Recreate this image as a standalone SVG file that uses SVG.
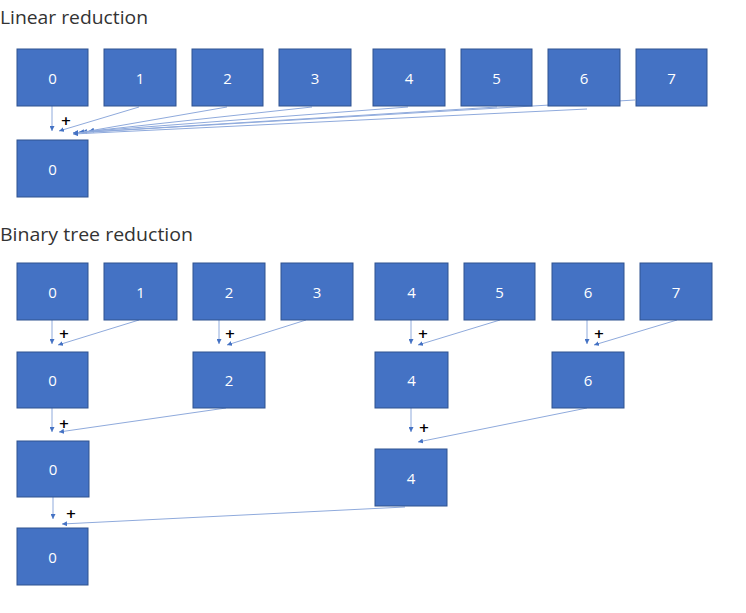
<svg xmlns="http://www.w3.org/2000/svg" width="746" height="613" viewBox="0 0 746 613">
<style>
.box rect{fill:#4472C4;stroke:#2F528F;stroke-width:1}
.box text{fill:#fff;font-family:"Open Sans","Noto Sans",sans-serif;font-size:15px;text-anchor:middle;dominant-baseline:central}
.title{fill:#333;font-family:"Open Sans","Noto Sans",sans-serif;font-size:19px}
.plus{fill:#000;font-family:"DejaVu Sans",sans-serif;font-size:13px;font-weight:bold;text-anchor:middle;dominant-baseline:central}
.conn line{stroke:#8FAADC;stroke-width:1;marker-end:url(#ah)}
</style>
<defs>
<marker id="ah" viewBox="0 0 10 10" refX="10" refY="5" markerWidth="5" markerHeight="5" markerUnits="userSpaceOnUse" orient="auto">
<path d="M0,0 L10,5 L0,10 z" fill="#4472C4"/>
</marker>
</defs>
<rect width="746" height="613" fill="#fff"/>
<text class="title" x="0" y="24" textLength="148" lengthAdjust="spacingAndGlyphs">Linear reduction</text>
<text class="title" x="0" y="241" textLength="193" lengthAdjust="spacingAndGlyphs">Binary tree reduction</text>

<g class="conn" id="connectors">
<line x1="52" y1="106" x2="52" y2="131"/>
<line x1="139" y1="107" x2="59" y2="131"/>
<line x1="227" y1="107" x2="89" y2="131"/>
<line x1="312" y1="107" x2="82" y2="132"/>
<line x1="408" y1="107" x2="79" y2="132"/>
<line x1="497" y1="107" x2="73" y2="133"/>
<line x1="587" y1="109" x2="73" y2="134"/>
<line x1="635" y1="100" x2="73" y2="133"/>

<line x1="52" y1="320" x2="52" y2="344"/>
<line x1="139" y1="320" x2="58" y2="345"/>
<line x1="219" y1="320" x2="219" y2="344"/>
<line x1="306" y1="320" x2="227" y2="345"/>
<line x1="411" y1="320" x2="411" y2="344"/>
<line x1="500" y1="320" x2="418" y2="345"/>
<line x1="587" y1="320" x2="587" y2="344"/>
<line x1="677" y1="320" x2="594" y2="345"/>

<line x1="52" y1="408" x2="52" y2="432"/>
<line x1="226" y1="408" x2="59" y2="432"/>
<line x1="411" y1="408" x2="411" y2="432"/>
<line x1="587" y1="408" x2="418" y2="442"/>

<line x1="53" y1="497" x2="53" y2="519"/>
<line x1="405" y1="507" x2="62" y2="524"/>
</g>

<g id="plus-signs">
<text class="plus" x="66" y="120">+</text>
<text class="plus" x="64" y="333">+</text>
<text class="plus" x="230" y="333">+</text>
<text class="plus" x="423" y="333">+</text>
<text class="plus" x="599" y="333">+</text>
<text class="plus" x="64" y="423">+</text>
<text class="plus" x="424" y="427">+</text>
<text class="plus" x="71" y="513">+</text>
</g>

<g class="box" id="lin-0"><rect x="17" y="49" width="71" height="57"/><text x="52.5" y="77.5">0</text></g>
<g class="box" id="lin-1"><rect x="104" y="49" width="72" height="57"/><text x="140" y="77.5">1</text></g>
<g class="box" id="lin-2"><rect x="192" y="49" width="71" height="57"/><text x="227.5" y="77.5">2</text></g>
<g class="box" id="lin-3"><rect x="279" y="49" width="72" height="57"/><text x="315" y="77.5">3</text></g>
<g class="box" id="lin-4"><rect x="373" y="49" width="72" height="57"/><text x="409" y="77.5">4</text></g>
<g class="box" id="lin-5"><rect x="461" y="49" width="71" height="57"/><text x="496.5" y="77.5">5</text></g>
<g class="box" id="lin-6"><rect x="548" y="49" width="72" height="57"/><text x="584" y="77.5">6</text></g>
<g class="box" id="lin-7"><rect x="636" y="49" width="71" height="57"/><text x="671.5" y="77.5">7</text></g>
<g class="box" id="lin-result"><rect x="17" y="140" width="71" height="57"/><text x="52.5" y="168.5">0</text></g>

<g class="box" id="bt-0"><rect x="17" y="263" width="71" height="57"/><text x="52.5" y="291.5">0</text></g>
<g class="box" id="bt-1"><rect x="104" y="263" width="73" height="57"/><text x="140.5" y="291.5">1</text></g>
<g class="box" id="bt-2"><rect x="193" y="263" width="72" height="57"/><text x="229" y="291.5">2</text></g>
<g class="box" id="bt-3"><rect x="281" y="263" width="72" height="57"/><text x="317" y="291.5">3</text></g>
<g class="box" id="bt-4"><rect x="375" y="263" width="73" height="57"/><text x="411.5" y="291.5">4</text></g>
<g class="box" id="bt-5"><rect x="464" y="263" width="71" height="57"/><text x="499.5" y="291.5">5</text></g>
<g class="box" id="bt-6"><rect x="552" y="263" width="72" height="57"/><text x="588" y="291.5">6</text></g>
<g class="box" id="bt-7"><rect x="640" y="263" width="72" height="57"/><text x="676" y="291.5">7</text></g>

<g class="box" id="bt-l2-0"><rect x="17" y="352" width="71" height="56"/><text x="52.5" y="380">0</text></g>
<g class="box" id="bt-l2-2"><rect x="193" y="352" width="72" height="56"/><text x="229" y="380">2</text></g>
<g class="box" id="bt-l2-4"><rect x="375" y="352" width="73" height="56"/><text x="411.5" y="380">4</text></g>
<g class="box" id="bt-l2-6"><rect x="552" y="352" width="72" height="56"/><text x="588" y="380">6</text></g>

<g class="box" id="bt-l3-0"><rect x="17" y="441" width="72" height="56"/><text x="53" y="469">0</text></g>
<g class="box" id="bt-l3-4"><rect x="375" y="449" width="72" height="57"/><text x="411" y="477.5">4</text></g>

<g class="box" id="bt-l4-0"><rect x="17" y="528" width="71" height="57"/><text x="52.5" y="556.5">0</text></g>
</svg>
